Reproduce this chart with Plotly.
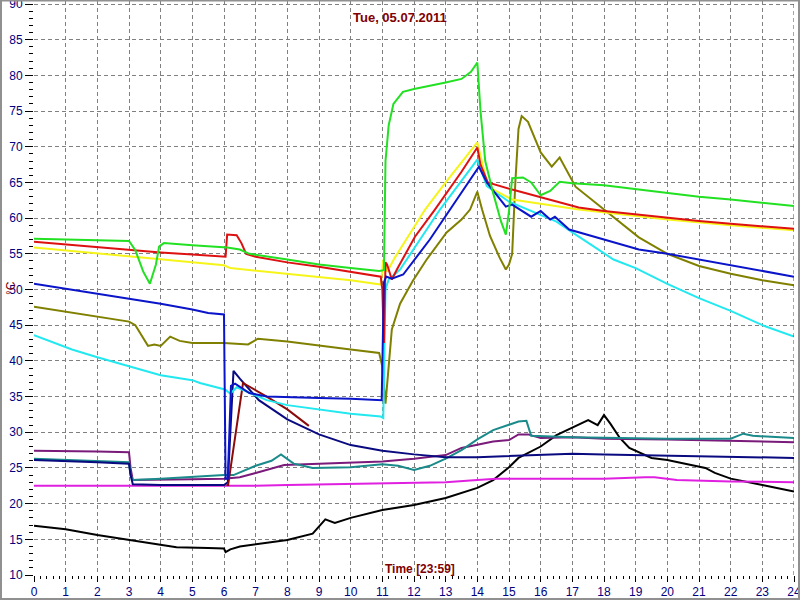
import plotly.graph_objects as go

# ---------------- data (hours, °C) ----------------
green_t = [0, 1, 2, 3.0, 3.2, 3.45, 3.66, 3.85, 3.95, 4.1, 5, 6.1, 6.5, 6.8, 8, 9, 10, 10.9, 11.05, 11.1, 11.2, 11.35, 11.65, 12, 13, 13.5, 13.8, 14.0, 14.1, 14.25, 14.5, 14.75, 14.9, 15.0, 15.1, 15.44, 15.7, 16.0, 16.3, 16.6, 17, 18, 19.1, 20, 21, 22, 23, 24]
green_v = [57.1, 57.0, 56.9, 56.8, 55.5, 52.5, 50.8, 53.5, 56.0, 56.5, 56.2, 55.9, 55.6, 55.0, 54.2, 53.5, 53.0, 52.6, 52.7, 68, 73, 76, 77.7, 78.1, 79, 79.5, 80.5, 81.8, 75, 68, 63.5, 59.5, 57.7, 61, 65.6, 65.7, 65, 63.2, 63.8, 65.1, 64.9, 64.6, 64.0, 63.5, 63.0, 62.6, 62.2, 61.7]

red_t = [0, 1, 2, 3, 4, 5, 5.9, 6.05, 6.1, 6.4, 6.55, 6.7, 7, 8, 9, 10, 10.95, 11.0, 11.05, 11.1, 11.15, 11.3, 11.46, 12.03, 12.66, 13.5, 14.0, 14.1, 14.33, 15.1, 16.3, 17.2, 18, 19.1, 20, 21, 22, 23, 24]
red_v = [56.7, 56.3, 55.9, 55.5, 55.2, 54.9, 54.6, 54.6, 57.7, 57.6, 56.5, 55.0, 54.6, 53.8, 53.2, 52.5, 51.8, 50.0, 42.5, 53.8, 53.5, 51.4, 52.8, 57.4, 61.2, 66.5, 69.9, 67.5, 65.0, 64.0, 62.6, 61.5, 61.0, 60.5, 60.0, 59.6, 59.2, 58.9, 58.5]

yellow_t = [0, 2, 4, 6, 6.2, 8, 10, 10.95, 11.03, 11.15, 11.4, 12.35, 13, 14.0, 14.3, 14.5, 15.1, 17.2, 18, 20, 22, 24]
yellow_v = [55.9, 55.1, 54.2, 53.4, 53.0, 52.2, 51.3, 50.7, 54.2, 52.5, 54.5, 61.2, 65.0, 70.6, 65.0, 64.0, 62.6, 61.2, 60.8, 59.8, 59.0, 58.3]

blue_t = [0, 1, 2, 3, 4, 5, 5.5, 6.0, 6.05, 6.12, 6.22, 6.35, 6.8, 7.35, 8, 9, 10, 10.98, 11.05, 11.12, 11.3, 11.66, 12.5, 13.07, 14.05, 14.3, 14.9, 15.1, 15.3, 15.7, 16.0, 16.3, 16.45, 16.9, 18, 19.1, 20, 21, 22, 23, 24]
blue_v = [50.8, 50.1, 49.5, 48.8, 48.0, 47.2, 46.7, 46.5, 23.5, 23.5, 36.5, 36.8, 35.5, 35.0, 34.9, 34.8, 34.7, 34.5, 51.0, 51.8, 51.5, 52.1, 57.0, 60.8, 67.2, 65.0, 61.6, 61.9, 61.3, 60.2, 61.0, 59.8, 60.2, 58.4, 57.0, 55.6, 55.0, 54.2, 53.5, 52.6, 51.8]

cyan_t = [0, 1.2, 2, 3, 4, 5, 5.24, 6.03, 6.2, 6.4, 7.35, 8, 9, 10, 10.95, 11.03, 11.1, 11.2, 11.56, 12.82, 14.0, 14.3, 15, 16, 16.5, 17, 18.3, 19, 20, 21, 22, 23, 24]
cyan_v = [43.6, 41.6, 40.5, 39.2, 38.0, 37.3, 36.9, 36.0, 35.4, 36.3, 34.5, 33.8, 33.2, 32.6, 32.2, 32.0, 50.0, 51.4, 52.8, 61.2, 68.2, 64.5, 62.3, 60.5, 59.5, 58.0, 54.2, 53.0, 50.8, 48.8, 47.0, 45.0, 43.4]

olive_t = [0, 1, 2, 3.0, 3.2, 3.4, 3.6, 3.8, 4.0, 4.3, 4.6, 5, 6, 6.76, 7.07, 8, 9, 10, 10.9, 11.0, 11.1, 11.3, 11.56, 11.96, 12.4, 13.03, 13.5, 13.77, 14.0, 14.15, 14.4, 14.7, 14.9, 15.0, 15.1, 15.2, 15.3, 15.4, 15.6, 16.0, 16.35, 16.6, 17.1, 18.1, 19.1, 20, 21, 22, 23, 24]
olive_v = [47.6, 46.9, 46.2, 45.5, 45.0, 43.5, 42.1, 42.3, 42.1, 43.4, 42.8, 42.5, 42.5, 42.3, 43.1, 42.7, 42.1, 41.6, 41.1, 39.2, 34.0, 44.4, 48.0, 51.2, 54.2, 58.0, 59.8, 61.2, 63.7, 61.2, 57.5, 54.5, 52.8, 53.5, 55.0, 65.0, 72.5, 74.3, 73.5, 69.2, 67.2, 68.5, 64.4, 60.8, 57.3, 55.0, 53.3, 52.2, 51.3, 50.6]

maroon_t = [6.08, 6.13, 6.6, 7.35, 8.0, 8.68]
maroon_v = [22.6, 22.6, 36.9, 35.0, 33.2, 30.9]

navy_t = [0, 1, 2, 3, 3.05, 3.12, 4, 5, 6.0, 6.12, 6.3, 6.5, 7.1, 8, 9, 10, 11, 12, 13, 14, 15, 16, 17, 18, 19, 20, 21, 22, 23, 24]
navy_v = [26.1, 26.0, 25.8, 25.6, 24.0, 22.7, 22.6, 22.6, 22.6, 23.0, 38.6, 37.5, 34.5, 31.8, 29.7, 28.2, 27.4, 26.9, 26.5, 26.5, 26.7, 26.9, 27.0, 26.9, 26.8, 26.8, 26.7, 26.6, 26.5, 26.4]

teal_t = [0, 1, 2, 3, 3.05, 3.12, 4, 5, 6, 6.3, 6.5, 7, 7.5, 7.8, 8.2, 8.8, 10, 11, 11.5, 12, 12.5, 13, 13.5, 14, 14.5, 15, 15.3, 15.55, 15.7, 17, 18, 20, 22, 22.4, 22.7, 24]
teal_v = [26.3, 26.1, 26.0, 25.8, 24.0, 23.3, 23.5, 23.8, 24.0, 24.0, 24.4, 25.3, 26.0, 26.9, 25.6, 25.0, 25.1, 25.5, 25.3, 24.7, 25.3, 26.3, 27.5, 29.0, 30.3, 31.0, 31.5, 31.6, 29.5, 29.3, 29.2, 29.1, 29.1, 29.8, 29.5, 29.2]

purple_t = [0, 1, 2, 3, 3.05, 3.12, 4, 5, 6, 6.5, 7, 7.9, 9, 10, 11, 12, 13, 13.5, 14.5, 15, 15.3, 15.6, 16, 17, 18, 20, 22, 24]
purple_v = [27.4, 27.4, 27.3, 27.2, 25.0, 23.3, 23.3, 23.4, 23.5, 23.7, 24.3, 25.4, 25.6, 25.7, 25.9, 26.3, 26.8, 27.8, 28.7, 28.9, 29.7, 29.7, 29.2, 29.3, 29.1, 29.0, 28.8, 28.6]

magenta_t = [0, 3, 4, 5, 6, 7, 8, 10, 12, 13, 14, 14.6, 16, 18, 19.3, 19.6, 20.3, 21, 22, 24]
magenta_v = [22.5, 22.5, 22.4, 22.4, 22.4, 22.5, 22.6, 22.8, 22.9, 23.0, 23.3, 23.5, 23.5, 23.5, 23.7, 23.7, 23.3, 23.2, 23.1, 23.0]

black_t = [0, 1, 2, 3, 4, 4.5, 5.5, 6.0, 6.05, 6.2, 6.5, 7, 8, 8.8, 9.2, 9.5, 10, 11, 12, 13, 14, 14.5, 15, 15.3, 15.8, 16, 16.5, 17, 17.5, 17.8, 18.0, 18.2, 18.5, 18.8, 19.5, 20, 21.2, 21.5, 22, 23, 24]
black_v = [16.9, 16.4, 15.6, 14.9, 14.2, 13.9, 13.8, 13.7, 13.2, 13.6, 14.0, 14.3, 14.9, 15.8, 17.8, 17.3, 18.0, 19.1, 19.8, 20.8, 22.2, 23.3, 25.1, 26.4, 27.5, 28.0, 29.6, 30.6, 31.7, 31.0, 32.4, 31.2, 29.2, 27.8, 26.4, 26.1, 25.0, 24.3, 23.5, 22.6, 21.7]

x_ticks = list(range(0, 25))
y_ticks = list(range(10, 95, 5))

series = [
    (black_t, black_v, "#000000"),
    (magenta_t, magenta_v, "#e020e0"),
    (purple_t, purple_v, "#7a1a7a"),
    (teal_t, teal_v, "#1a8a8a"),
    (navy_t, navy_v, "#0a0a80"),
    (maroon_t, maroon_v, "#8b0a0a"),
    (olive_t, olive_v, "#808000"),
    (cyan_t, cyan_v, "#22e8f0"),
    (yellow_t, yellow_v, "#f5f51a"),
    (red_t, red_v, "#dd1111"),
    (blue_t, blue_v, "#0a14c8"),
    (green_t, green_v, "#22e022"),
]

fig = go.Figure()
for t, v, c in series:
    fig.add_trace(go.Scatter(x=t, y=v, mode="lines", line=dict(color=c, width=2), hoverinfo="skip"))

FONT = "Liberation Sans, Arial, sans-serif"
grid = dict(showgrid=True, gridcolor="#808080", gridwidth=1, griddash="4px,3px",
            zeroline=False, showline=False, ticks="outside", tickcolor="#000000", tickwidth=1,
            ticklabeloverflow="allow",
            tickfont=dict(family=FONT, size=12, color="#000080"))

fig.update_layout(
    width=800, height=600,
    margin=dict(l=34, r=6, t=1, b=25, autoexpand=False),
    paper_bgcolor="white", plot_bgcolor="white",
    showlegend=False,
    xaxis=dict(range=[0, 24], tickvals=x_ticks, ticklen=6,
               minor=dict(dtick=0.2, tick0=0, ticks="outside", ticklen=3, tickcolor="#000000", showgrid=False),
               **grid),
    yaxis=dict(range=[10, 90.42], tickvals=y_ticks, ticklen=8,
               minor=dict(dtick=1, tick0=10, ticks="outside", ticklen=4, tickcolor="#000000", showgrid=False),
               **grid),
    annotations=[
        dict(text="<b>Tue, 05.07.2011</b>", xref="paper", yref="paper", x=(400 - 34) / 760, y=(575 - 18) / 574,
             showarrow=False, xanchor="center", yanchor="middle",
             font=dict(family=FONT, size=13, color="#800000")),
        dict(text="<b>Time [23:59]</b>", xref="paper", yref="paper", x=(420 - 34) / 760, y=(575 - 569) / 574,
             showarrow=False, xanchor="center", yanchor="middle",
             font=dict(family=FONT, size=12, color="#800000")),
        dict(text="°C", xref="paper", yref="paper", x=(11 - 34) / 760, y=(575 - 288) / 574,
             showarrow=False, xanchor="center", yanchor="middle", textangle=-90,
             font=dict(family=FONT, size=12, color="#800000")),
    ],
    shapes=[
        dict(type="line", xref="x", yref="paper", x0=24, x1=24, y0=0, y1=1,
             line=dict(color="#008000", width=1, dash="4px,3px")),
        dict(type="rect", xref="paper", yref="paper", x0=-33 / 760, x1=1 + 5 / 760, y0=-24 / 574, y1=1 + 0.5 / 574,
             line=dict(color="#909090", width=2), fillcolor="rgba(0,0,0,0)", layer="above"),
    ],
)

fig.write_html("out.html", config={"displayModeBar": False, "staticPlot": True},
               post_script="document.body.style.margin='0';document.body.style.overflow='hidden';")
